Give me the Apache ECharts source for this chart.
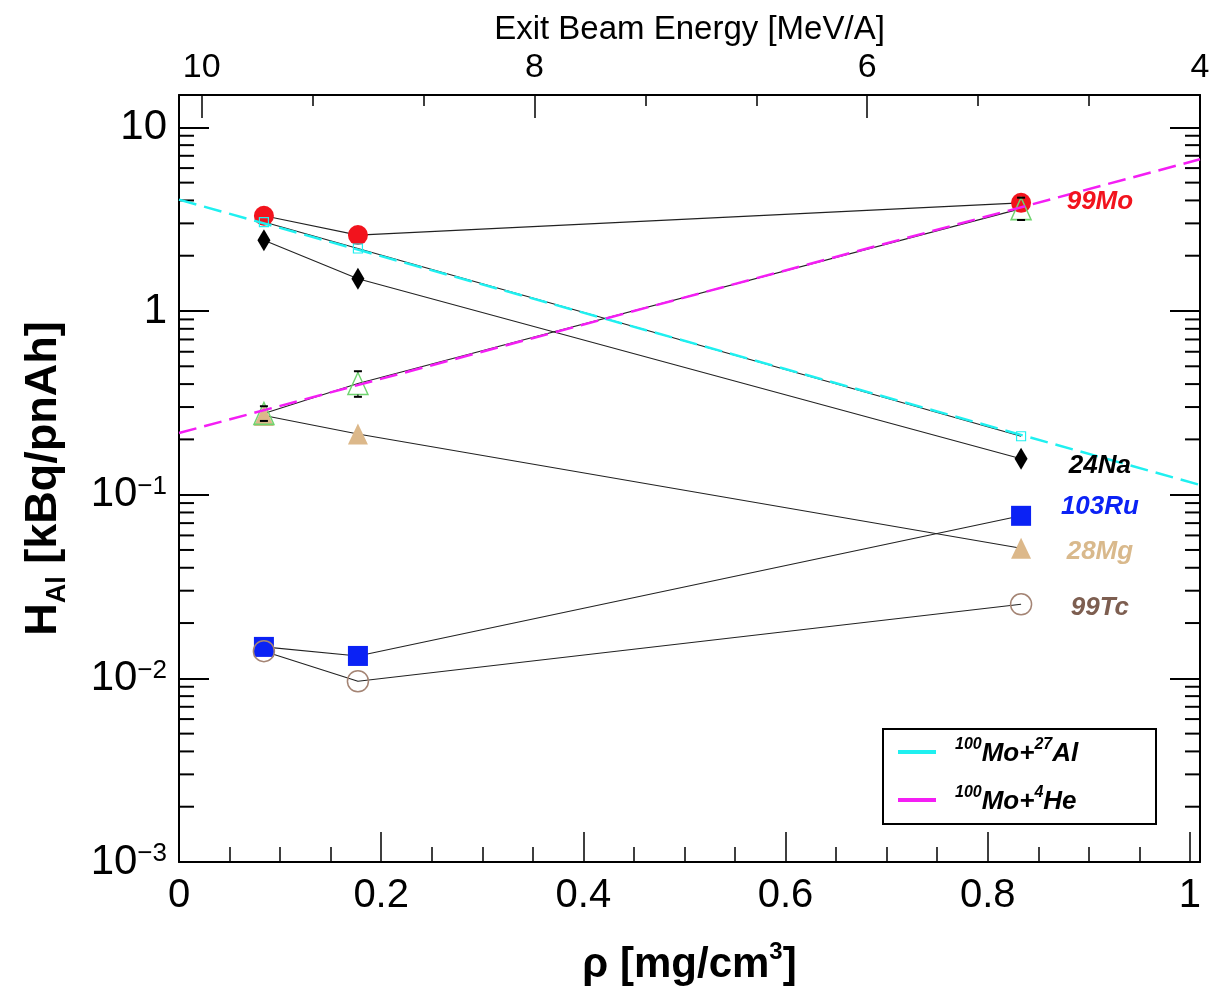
<!DOCTYPE html>
<html><head><meta charset="utf-8">
<script src="https://cdn.jsdelivr.net/npm/echarts@6/dist/echarts.min.js"></script>
<style>html,body{margin:0;padding:0;background:#fff}#c{width:1217px;height:995px}</style>
</head><body><div id="c"></div>
<script>
// ---------------- data ----------------
const rho = [0.084, 0.177, 0.833];
const mo99 = [3.30, 2.59, 3.88];
const na24 = [2.43, 1.50, 0.157];
const moAlPts = [3.05, 2.19, 0.208];
const moHePts = [0.277, 0.403, 3.61];
const moHeLow = [0.252, 0.341, 3.13];
const moHeHigh = [0.303, 0.470, 4.14];
const mg28 = [0.270, 0.214, 0.0511];
const ru103 = [0.01483, 0.01324, 0.0767];
const tc99 = [0.01406, 0.00964, 0.0253];
const fitRho = [0, 1.01];
const fitAl = [4.04, 0.113];
const fitHe = [0.2166, 6.70];
const fitNames = ['100Mo+27Al', '100Mo+4He'];
const isoNames = ['99Mo', '24Na', '103Ru', '28Mg', '99Tc'];
const isoLabelRho = [0.911, 0.911, 0.911, 0.911, 0.911];
const isoLabelH = [3.93, 0.143, 0.0859, 0.0489, 0.0241];
const xTickLabels = ['0', '0.2', '0.4', '0.6', '0.8', '1'];
const energyTickLabels = ['4', '6', '8', '10'];
const yTickLabels = ['{b|10}{s|−3}', '{b|10}{s|−2}', '{b|10}{s|−1}', '{b|1}', '{b|10}'];

// ---------------- styles ----------------
const FONT = 'Liberation Sans';
const C = {
  red: '#f2131d', blue: '#0b22f5', tan: '#dcb88a', green: '#6fd46f',
  brown: '#a48474', brownText: '#7d5e50', cyan: '#1ff0f0', magenta: '#f41ef4', line: '#222'
};
const isoColors = [C.red, '#000000', C.blue, '#d9b98c', C.brownText];

const yMinorTicks = [];
for (let e = -3; e <= 1; e++) for (let m = 2; m <= 9; m++) { const v = m * Math.pow(10, e); if (v < 15) yMinorTicks.push(v); }

const pts = arr => rho.map((x, i) => [x, arr[i]]);

function markerSeries(name, arr, symbol, size, itemStyle) {
  return {
    name, type: 'line', data: pts(arr), xAxisIndex: 0, yAxisIndex: 0,
    symbol, symbolSize: size, showSymbol: true, showAllSymbol: true,
    lineStyle: { color: C.line, width: 1.1 }, itemStyle, emphasis: { disabled: true }, silent: true, z: 3
  };
}

const chart = echarts.init(document.getElementById('c'));
const supRich = {
  b: { fontFamily: FONT, fontSize: 42, color: '#000', lineHeight: 42, verticalAlign: 'bottom' },
  s: { fontFamily: FONT, fontSize: 26, color: '#000', lineHeight: 26, verticalAlign: 'top', padding: [0, 0, 24, 0] }
};

chart.setOption({
  animation: false,
  backgroundColor: '#fff',
  grid: { left: 179, right: 17, top: 95, bottom: 133, containLabel: false },
  xAxis: [{
    type: 'value', position: 'bottom', min: 0, max: 1.01, interval: 0.2,
    axisLine: { show: true, onZero: false, lineStyle: { color: '#000', width: 2 } },
    axisTick: { show: true, inside: true, length: 30, lineStyle: { color: '#000', width: 1.5 } },
    minorTick: { show: true, splitNumber: 4, length: 15, lineStyle: { color: '#000', width: 1.5 } },
    splitLine: { show: false }, minorSplitLine: { show: false },
    axisLabel: {
      margin: 14, fontFamily: FONT, fontSize: 40, color: '#000', showMinLabel: true,
      formatter: v => { const i = Math.round(v / 0.2); return Math.abs(v - i * 0.2) < 1e-6 ? (xTickLabels[i] || '') : ''; }
    },
    name: '{b|ρ [mg/cm}{s|3}{b|]}', nameLocation: 'middle', nameGap: 78,
    nameTextStyle: {
      rich: {
        b: { fontFamily: FONT, fontSize: 42, fontWeight: 'bold', color: '#000', lineHeight: 46, verticalAlign: 'bottom' },
        s: { fontFamily: FONT, fontSize: 24, fontWeight: 'bold', color: '#000', lineHeight: 24, verticalAlign: 'top' }
      }
    }
  }, {
    type: 'value', position: 'top', min: 4, max: 10.136, inverse: true, interval: 2,
    axisLine: { show: true, onZero: false, lineStyle: { color: '#000', width: 2 } },
    axisTick: { show: true, inside: true, length: 23, lineStyle: { color: '#000', width: 1.5 } },
    minorTick: { show: true, splitNumber: 3, length: 11, lineStyle: { color: '#000', width: 1.5 } },
    splitLine: { show: false }, minorSplitLine: { show: false },
    axisLabel: {
      margin: 10, fontFamily: FONT, fontSize: 34, color: '#000', showMinLabel: true, showMaxLabel: true,
      formatter: v => { const r = Math.round(v); if (Math.abs(v - r) > 1e-6) return ''; const k = energyTickLabels.indexOf(String(r)); return k >= 0 ? energyTickLabels[k] : ''; }
    },
    name: 'Exit Beam Energy [MeV/A]', nameLocation: 'middle', nameGap: 47,
    nameTextStyle: { fontFamily: FONT, fontSize: 33, color: '#000' }
  }],
  yAxis: [{
    type: 'log', logBase: 10, min: 0.001, max: 15, position: 'left',
    axisLine: { show: true, onZero: false, lineStyle: { color: '#000', width: 2 } },
    axisTick: { show: true, inside: true, length: 30, lineStyle: { color: '#000', width: 2 } },
    minorTick: { show: false }, splitLine: { show: false },
    axisLabel: {
      margin: 12, fontFamily: FONT, fontSize: 42, color: '#000', rich: supRich,
      formatter: v => { const e = Math.log10(v); const r = Math.round(e); if (Math.abs(e - r) > 1e-6) return ''; return yTickLabels[r + 3] || ''; }
    },
    name: '{b|H}{sub|Al}{b| [kBq/pnAh]}', nameLocation: 'middle', nameRotate: 90, nameGap: 108,
    nameTextStyle: {
      rich: {
        b: { fontFamily: FONT, fontSize: 45, fontWeight: 'bold', color: '#000', lineHeight: 50, verticalAlign: 'top' },
        sub: { fontFamily: FONT, fontSize: 27, fontWeight: 'bold', color: '#000', lineHeight: 27, verticalAlign: 'bottom' }
      }
    }
  }, {
    type: 'log', logBase: 10, min: 0.001, max: 15, position: 'right',
    axisLine: { show: true, onZero: false, lineStyle: { color: '#000', width: 2 } },
    axisTick: { show: true, inside: true, length: 30, lineStyle: { color: '#000', width: 2 } },
    axisLabel: { show: false }, splitLine: { show: false }
  }],
  legend: {
    data: fitNames, orient: 'vertical', left: 893, top: 732, itemWidth: 38, itemHeight: 4, icon: 'rect',
    itemGap: 18, selectedMode: false,
    textStyle: {
      padding: [0, 0, 0, 14],
      rich: {
        b: { fontFamily: FONT, fontSize: 26, fontWeight: 'bold', fontStyle: 'italic', color: '#000', lineHeight: 30, verticalAlign: 'bottom' },
        s: { fontFamily: FONT, fontSize: 16, fontWeight: 'bold', fontStyle: 'italic', color: '#000', lineHeight: 16, verticalAlign: 'top' }
      }
    },
    formatter: n => n === fitNames[0] ? '{s|100}{b|Mo+}{s|27}{b|Al}' : '{s|100}{b|Mo+}{s|4}{b|He}'
  },
  graphic: [{ type: 'rect', shape: { x: 883, y: 729, width: 273, height: 95 }, style: { fill: '#fff', stroke: '#000', lineWidth: 2 }, z: 0 }],
  series: [
    {
      type: 'custom', coordinateSystem: 'cartesian2d', xAxisIndex: 0, yAxisIndex: 0, silent: true, z: 5,
      data: yMinorTicks.map(v => [0.5, v]), encode: { x: 0, y: 1 },
      renderItem: (params, api) => {
        const cs = params.coordSys; const y = api.coord([0.5, api.value(1)])[1];
        return { type: 'group', children: [
          { type: 'line', shape: { x1: cs.x, y1: y, x2: cs.x + 15, y2: y }, style: { stroke: '#000', lineWidth: 2 } },
          { type: 'line', shape: { x1: cs.x + cs.width - 15, y1: y, x2: cs.x + cs.width, y2: y }, style: { stroke: '#000', lineWidth: 2 } }
        ] };
      }
    },
    markerSeries('28Mg', mg28, 'triangle', [20, 21], { color: C.tan }),
    markerSeries('103Ru', ru103, 'rect', 20, { color: C.blue }),
    markerSeries('99Tc', tc99, 'circle', 21, { color: 'rgba(0,0,0,0)', borderColor: C.brown, borderWidth: 1.5 }),
    markerSeries('99Mo', mo99, 'circle', 20, { color: C.red }),
    markerSeries('24Na', na24, 'diamond', [13, 22], { color: '#000' }),
    markerSeries('99Mo (4He)', moHePts, 'triangle', [20, 22], { color: 'rgba(0,0,0,0)', borderColor: C.green, borderWidth: 1.5 }),
    {
      type: 'custom', coordinateSystem: 'cartesian2d', xAxisIndex: 0, yAxisIndex: 0, silent: true, z: 4,
      data: rho.map((x, i) => [x, moHeLow[i], moHeHigh[i], moHePts[i]]), encode: { x: 0, y: [1, 2] },
      renderItem: (params, api) => {
        const x = api.value(0);
        const pLo = api.coord([x, api.value(1)]), pHi = api.coord([x, api.value(2)]), pC = api.coord([x, api.value(3)]);
        const st = { stroke: '#000', lineWidth: 2 }; const cap = 4, half = 11;
        const ch = [
          { type: 'line', shape: { x1: pLo[0] - cap, y1: pLo[1], x2: pLo[0] + cap, y2: pLo[1] }, style: st },
          { type: 'line', shape: { x1: pHi[0] - cap, y1: pHi[1], x2: pHi[0] + cap, y2: pHi[1] }, style: st }
        ];
        if (pHi[1] < pC[1] - half) ch.push({ type: 'line', shape: { x1: pC[0], y1: pHi[1], x2: pC[0], y2: pC[1] - half }, style: { stroke: '#000', lineWidth: 1.2 } });
        if (pLo[1] > pC[1] + half) ch.push({ type: 'line', shape: { x1: pC[0], y1: pC[1] + half, x2: pC[0], y2: pLo[1] }, style: { stroke: '#000', lineWidth: 1.2 } });
        return { type: 'group', children: ch };
      }
    },
    markerSeries('99Mo (27Al)', moAlPts, 'rect', 9, { color: 'rgba(0,0,0,0)', borderColor: C.cyan, borderWidth: 1.2 }),
    {
      name: fitNames[0], type: 'line', data: fitRho.map((x, i) => [x, fitAl[i]]), xAxisIndex: 0, yAxisIndex: 0,
      color: C.cyan, symbol: 'none', lineStyle: { color: C.cyan, width: 2.5, type: [18, 8] }, silent: true, z: 6
    },
    {
      name: fitNames[1], type: 'line', data: fitRho.map((x, i) => [x, fitHe[i]]), xAxisIndex: 0, yAxisIndex: 0,
      color: C.magenta, symbol: 'none', lineStyle: { color: C.magenta, width: 2.5, type: [18, 8] }, silent: true, z: 6
    },
    {
      type: 'scatter', xAxisIndex: 0, yAxisIndex: 0, symbolSize: 0, silent: true, z: 7,
      itemStyle: { color: 'rgba(0,0,0,0)' },
      data: isoNames.map((n, i) => ({ name: n, value: [isoLabelRho[i], isoLabelH[i]], label: { color: isoColors[i] } })),
      label: { show: true, position: 'inside', formatter: p => p.name, fontFamily: FONT, fontSize: 26, fontWeight: 'bold', fontStyle: 'italic', textBorderWidth: 0, textBorderColor: 'transparent', opacity: 1 }
    }
  ]
});
</script></body></html>
